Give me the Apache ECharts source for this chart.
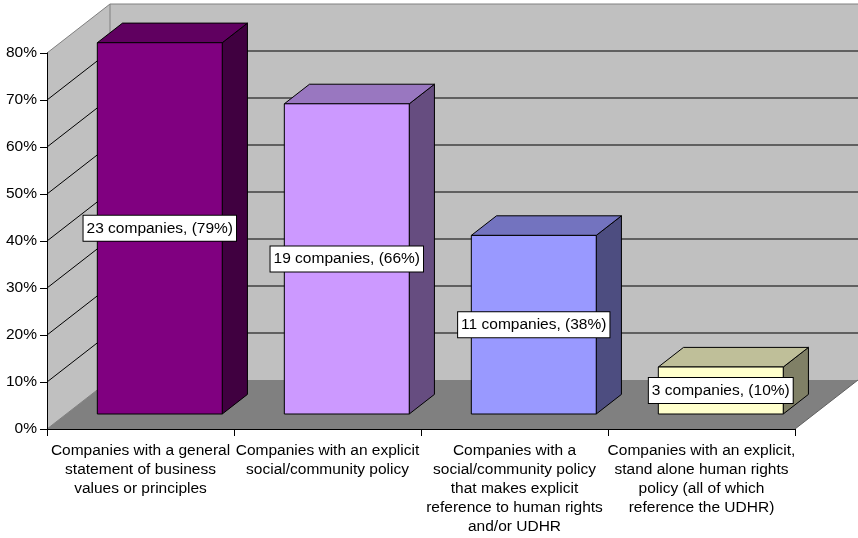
<!DOCTYPE html>
<html>
<head>
<meta charset="utf-8">
<script src="https://cdn.jsdelivr.net/npm/echarts@6/dist/echarts.min.js"></script>
<style>
html,body{margin:0;padding:0;background:#fff;}
#chart{width:858px;height:538px;}
</style>
</head>
<body>
<div id="chart"></div>
<script>
// ---- data ----
const categories = [
  'Companies with a general\nstatement of business\nvalues or principles',
  'Companies with an explicit\nsocial/community policy',
  'Companies with a\nsocial/community policy\nthat makes explicit\nreference to human rights\nand/or UDHR',
  'Companies with an explicit,\nstand alone human rights\npolicy (all of which\nreference the UDHR)'
];
const companyCounts = [23, 19, 11, 3];
const percentValues = [79, 66, 38, 10];
const yTicks = [0, 10, 20, 30, 40, 50, 60, 70, 80];

// ---- styles ----
const frontColors = ['#800080', '#CC99FF', '#9999FF', '#FFFFCC'];
const topColors   = ['#600060', '#9977C0', '#7373BF', '#BFBF99'];
const sideColors  = ['#400040', '#664D80', '#4D4D80', '#808066'];
const DX = 63, DY = -49;          // depth projection
const D0 = 0.306, D1 = 0.706;     // bar depth range
const BAR_FRAC = 0.668;
const FONT = '"Liberation Sans", Arial, sans-serif';
const FS = 15.5;

const yMin = yTicks[0], yMax = yTicks[yTicks.length - 1];
const yStep = yTicks[1] - yTicks[0];

function P(x, y, d) { return [x + DX * d, y + DY * d]; }

const chart = echarts.init(document.getElementById('chart'), null, {renderer: 'canvas'});

const option = {
  animation: false,
  backgroundColor: '#fff',
  grid: {left: 47, right: 63, top: 53, bottom: 109, containLabel: false},
  xAxis: {
    type: 'category',
    data: categories,
    boundaryGap: true,
    axisLine: {show: true, lineStyle: {color: '#000', width: 1}},
    axisTick: {show: true, length: 7, alignWithLabel: false, lineStyle: {color: '#000'}},
    axisLabel: {
      interval: 0, margin: 12, color: '#000', fontSize: FS, fontFamily: FONT,
      lineHeight: 19, align: 'center'
    },
    splitLine: {show: false}
  },
  yAxis: {
    type: 'value',
    min: yMin, max: yMax, interval: yStep,
    axisLine: {show: true, lineStyle: {color: '#000', width: 1}},
    axisTick: {show: true, length: 7, lineStyle: {color: '#000'}},
    axisLabel: {formatter: '{value}%', margin: 10, color: '#000', fontSize: FS, fontFamily: FONT},
    splitLine: {show: false}
  },
  series: [
    {
      type: 'custom',
      z: -1,
      silent: true,
      data: [[0, 0]],
      encode: {x: 0, y: 1},
      renderItem: function (params, api) {
        const bw = api.size([1, 0])[0];
        const n = categories.length;
        const xl = api.coord([0, yMin])[0] - bw / 2;
        const xr = api.coord([n - 1, yMin])[0] + bw / 2;
        const y0 = api.coord([0, yMin])[1];
        const yT = api.coord([0, yMax])[1];
        const children = [];
        // side wall
        children.push({type: 'polygon', shape: {points: [[xl, yT], P(xl, yT, 1), P(xl, y0, 1), [xl, y0]]},
          style: {fill: '#C0C0C0', stroke: null}});
        // back wall
        children.push({type: 'polygon', shape: {points: [P(xl, yT, 1), P(xr, yT, 1), P(xr, y0, 1), P(xl, y0, 1)]},
          style: {fill: '#C0C0C0', stroke: null}});
        // floor
        children.push({type: 'polygon', shape: {points: [[xl, y0], P(xl, y0, 1), P(xr, y0, 1), [xr, y0]]},
          style: {fill: '#808080', stroke: null}});
        // gridlines
        yTicks.forEach(function (t) {
          if (t === yMin || t === yMax) return;
          const y = api.coord([0, t])[1];
          children.push({type: 'polyline', shape: {points: [[xl, y], P(xl, y, 1), P(xr, y, 1)]},
            style: {fill: null, stroke: '#000', lineWidth: 1}});
        });
        // wall edges
        children.push({type: 'polyline', shape: {points: [[xl, yT], P(xl, yT, 1), P(xr, yT, 1)]},
          style: {fill: null, stroke: '#808080', lineWidth: 1}});
        children.push({type: 'line', shape: {x1: xl + DX, y1: yT + DY, x2: xl + DX, y2: y0 + DY},
          style: {stroke: '#808080', lineWidth: 1}});
        children.push({type: 'line', shape: {x1: xl, y1: y0, x2: xl + DX, y2: y0 + DY},
          style: {stroke: '#808080', lineWidth: 1}});
        children.push({type: 'line', shape: {x1: xr, y1: y0, x2: xr + DX, y2: y0 + DY},
          style: {stroke: '#606060', lineWidth: 1}});
        return {type: 'group', children: children};
      }
    },
    {
      type: 'custom',
      z: 3,
      silent: true,
      data: percentValues.map(function (v, i) { return [i, v]; }),
      encode: {x: 0, y: 1},
      renderItem: function (params, api) {
        const i = api.value(0);
        const v = api.value(1);
        const bw = api.size([1, 0])[0];
        const c = api.coord([i, v]);
        const yb = api.coord([i, yMin])[1];
        const yt = c[1];
        const w = bw * BAR_FRAC;
        const x0 = c[0] - w / 2, x1 = c[0] + w / 2;
        const stroke = {stroke: '#000', lineWidth: 1, lineJoin: 'round'};
        const front = [P(x0, yt, D0), P(x1, yt, D0), P(x1, yb, D0), P(x0, yb, D0)];
        const top = [P(x0, yt, D0), P(x0, yt, D1), P(x1, yt, D1), P(x1, yt, D0)];
        const side = [P(x1, yt, D0), P(x1, yt, D1), P(x1, yb, D1), P(x1, yb, D0)];
        const fc = P(c[0], (yt + yb) / 2, D0);
        return {
          type: 'group',
          children: [
            {type: 'polygon', shape: {points: side}, style: Object.assign({fill: sideColors[i]}, stroke)},
            {type: 'polygon', shape: {points: top}, style: Object.assign({fill: topColors[i]}, stroke)},
            {type: 'polygon', shape: {points: front}, style: Object.assign({fill: frontColors[i]}, stroke)},
            {type: 'text', z2: 10, style: {
              x: fc[0], y: fc[1],
              text: companyCounts[i] + ' companies, (' + percentValues[i] + '%)',
              align: 'center', verticalAlign: 'middle',
              fontSize: FS, fontFamily: FONT, fill: '#000',
              backgroundColor: '#fff', borderColor: '#000', borderWidth: 1,
              padding: [5, 3, 4, 3]
            }}
          ]
        };
      }
    }
  ]
};
chart.setOption(option);
</script>
</body>
</html>
